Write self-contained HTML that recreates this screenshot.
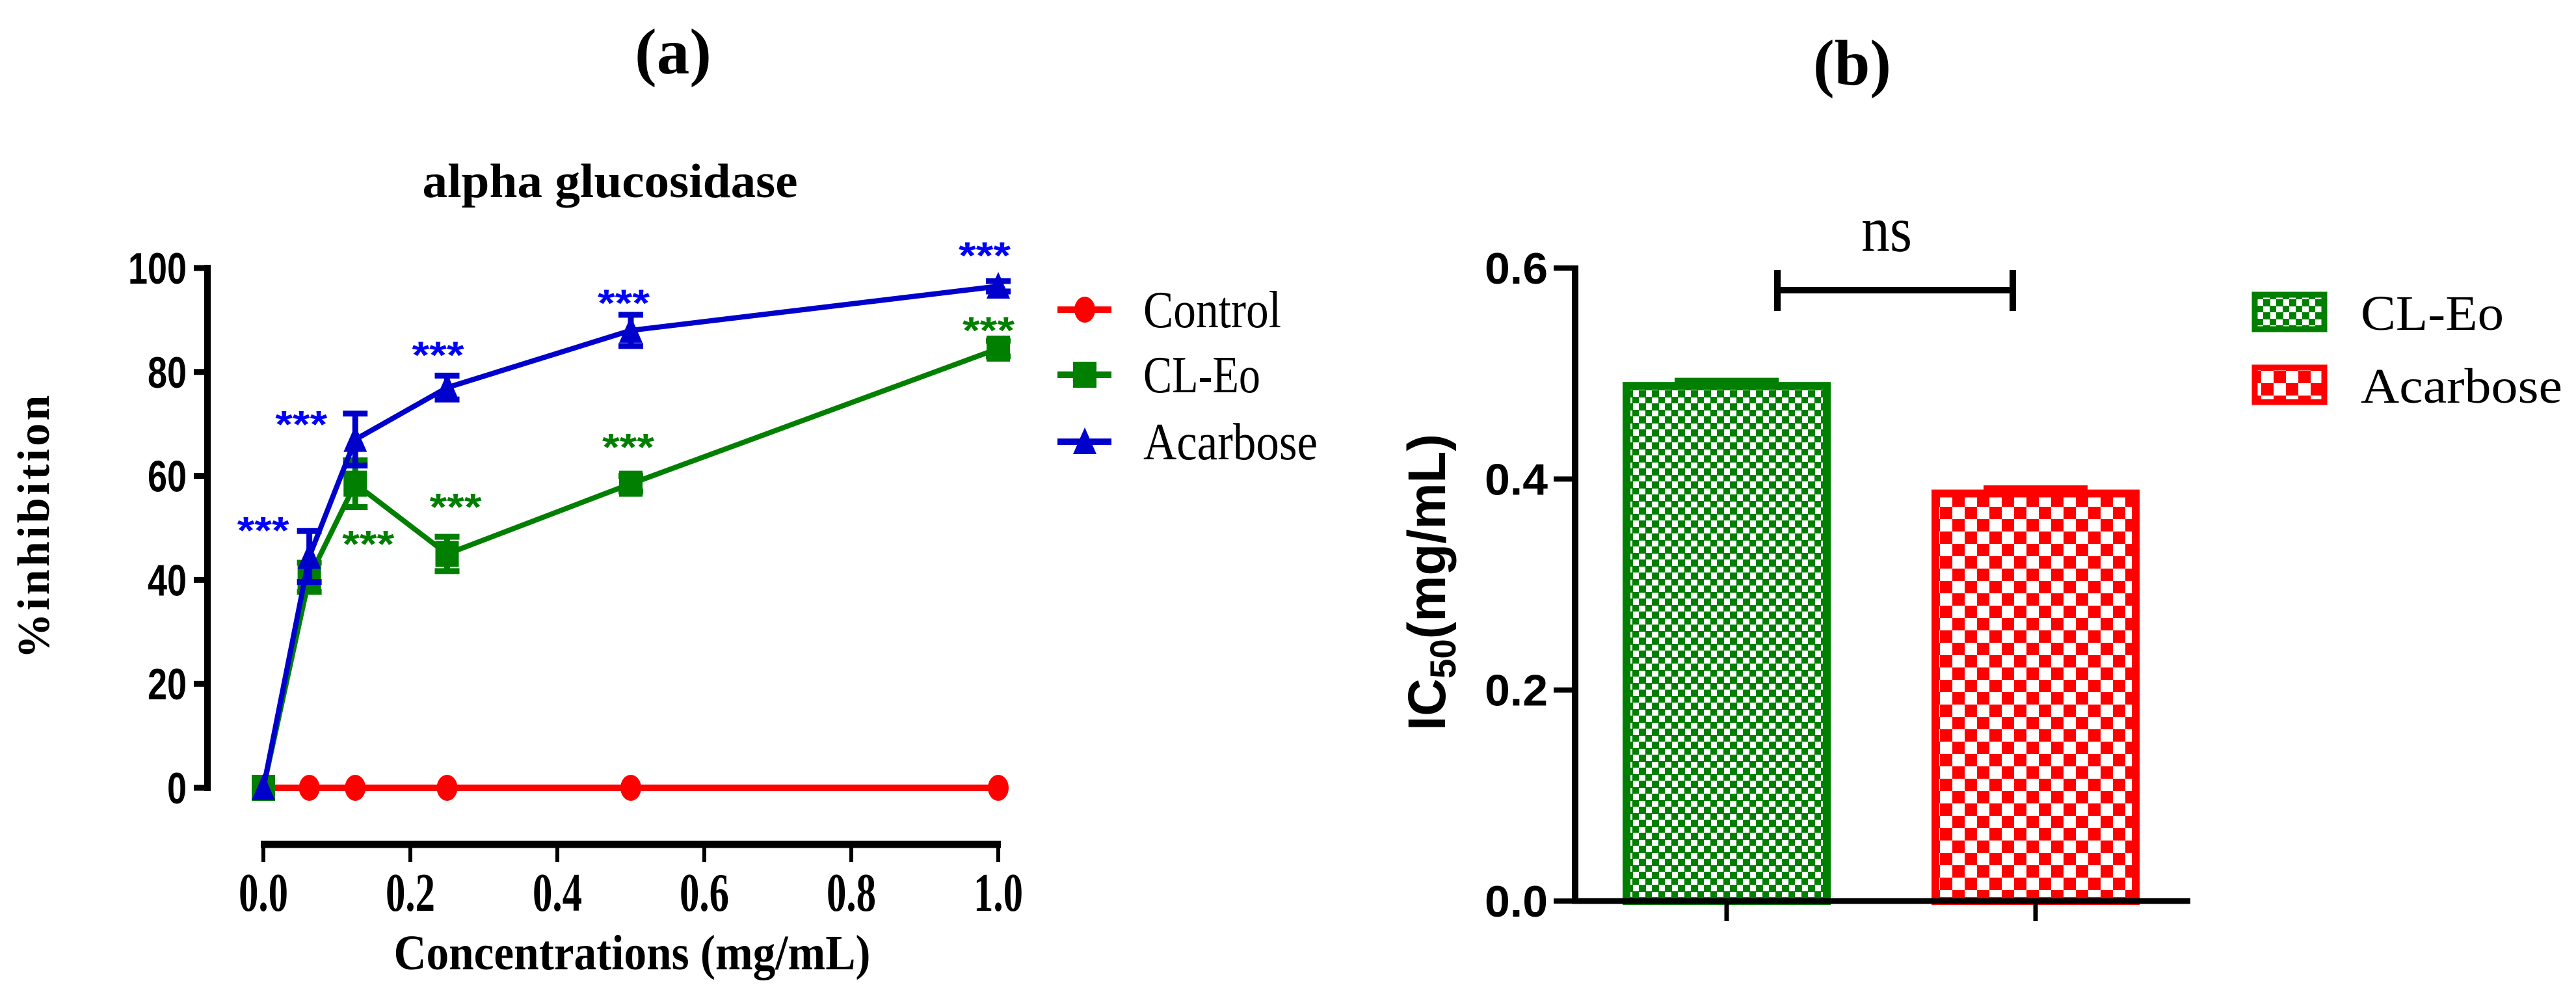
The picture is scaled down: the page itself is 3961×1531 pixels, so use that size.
<!DOCTYPE html>
<html><head><meta charset="utf-8">
<style>
html,body{margin:0;padding:0;background:#fff;}
svg{display:block;}
</style></head>
<body>
<svg id="fig" xmlns="http://www.w3.org/2000/svg" width="3961" height="1531" viewBox="0 0 3961 1531">
<defs>
<pattern id="pGreen" patternUnits="userSpaceOnUse" width="20" height="20">
<rect width="20" height="20" fill="#fff"/>
<rect x="0" y="0" width="11" height="11" fill="#007f00"/>
<rect x="10" y="10" width="11" height="11" fill="#007f00"/>
</pattern>
<pattern id="pRed" patternUnits="userSpaceOnUse" width="38" height="38">
<rect width="38" height="38" fill="#fff"/>
<rect x="0" y="0" width="19" height="19" fill="#ff0000"/>
<rect x="19" y="19" width="19" height="19" fill="#ff0000"/>
</pattern>
</defs>
<g id="left"></g>
<g id="right"></g>
</svg>
<script>
// ---- Chart (a) data ----
const concentrations = [0, 0.0625, 0.125, 0.25, 0.5, 1.0];
const controlValues = [0, 0, 0, 0, 0, 0];
const cleoValues = [0, 40.5, 58.5, 45, 58.5, 84.5];
const cleoErr = [0, 2.8, 4.5, 3.3, 1.5, 1.5];
const acarboseValues = [0, 44.5, 67, 77, 88, 96.5];
const acarboseErr = [0, 4.9, 5, 2.3, 3, 1];
const yTicksA = [0, 20, 40, 60, 80, 100];
const xTicksA = [0, 0.2, 0.4, 0.6, 0.8, 1.0];
const xTickLabelsA = ["0.0", "0.2", "0.4", "0.6", "0.8", "1.0"];
const acarboseStars = ["", "***", "***", "***", "***", "***"];
const cleoStars = ["", "", "***", "***", "***", "***"];
// ---- Chart (b) data ----
const barCategories = ["CL-Eo", "Acarbose"];
const barValues = [0.492, 0.39];
const barErr = [0.004, 0.004];
const yTicksB = [0.0, 0.2, 0.4, 0.6];
const yTickLabelsB = ["0.0", "0.2", "0.4", "0.6"];

const NS = "http://www.w3.org/2000/svg";
function mk(parent, tag, attrs, text) {
  const el = document.createElementNS(NS, tag);
  for (const k in attrs) el.setAttribute(k, attrs[k]);
  if (text !== undefined) el.textContent = text;
  parent.appendChild(el);
  return el;
}
const L = document.getElementById('left');
const R = document.getElementById('right');

const ax0 = 405, ax1 = 1535, ay0 = 1211, ay1 = 412;
const xA = v => ax0 + (v - 0) / 1.0 * (ax1 - ax0);
const yA = v => ay0 + v / 100 * (ay1 - ay0);

let e;
e = mk(L, 'text', {x: 1035, y: 113, 'text-anchor': 'middle', 'font-family': 'Liberation Serif, serif', 'font-weight': 'bold', 'font-size': 100, textLength: 118, lengthAdjust: 'spacingAndGlyphs'}, '(a)');


e = mk(L, 'text', {x: 938, y: 303, 'text-anchor': 'middle', 'font-family': 'Liberation Serif, serif', 'font-weight': 'bold', 'font-size': 74, textLength: 577, lengthAdjust: 'spacingAndGlyphs'}, 'alpha glucosidase');



e = mk(L, 'line', {x1: 319, y1: yA(100) - 5, x2: 319, y2: yA(0) + 5, stroke: '#000', 'stroke-width': 10});


yTicksA.forEach(t => {
  e = mk(L, 'line', {x1: 298, y1: yA(t), x2: 324, y2: yA(t), stroke: '#000', 'stroke-width': 9});
  
  
  const s = String(t);
  e = mk(L, 'text', {x: 287, y: yA(t) + 24, 'text-anchor': 'end', 'font-family': 'Liberation Sans, sans-serif', 'font-weight': 'bold', 'font-size': 68, textLength: s.length * 30, lengthAdjust: 'spacingAndGlyphs'}, s);
  
  
});
e = mk(L, 'text', {transform: 'translate(75,810) rotate(-90)', 'text-anchor': 'middle', 'font-family': 'Liberation Serif, serif', 'font-weight': 'bold', 'font-size': 70, textLength: 405, lengthAdjust: 'spacing'}, '%inhibition');



e = mk(L, 'line', {x1: ax0 - 4, y1: 1298, x2: ax1 + 4, y2: 1298, stroke: '#000', 'stroke-width': 11});


xTicksA.forEach((t, i) => {
  e = mk(L, 'line', {x1: xA(t), y1: 1298, x2: xA(t), y2: 1325, stroke: '#000', 'stroke-width': 6});
  
  
  e = mk(L, 'text', {x: xA(t), y: 1400, 'text-anchor': 'middle', 'font-family': 'Liberation Serif, serif', 'font-weight': 'bold', 'font-size': 84, textLength: 76, lengthAdjust: 'spacingAndGlyphs'}, xTickLabelsA[i]);
  
  
});
e = mk(L, 'text', {x: 972, y: 1490, 'text-anchor': 'middle', 'font-family': 'Liberation Serif, serif', 'font-weight': 'bold', 'font-size': 76, textLength: 733, lengthAdjust: 'spacingAndGlyphs'}, 'Concentrations (mg/mL)');



function polyPts(vals) { return concentrations.map((c, i) => xA(c) + ',' + yA(vals[i])).join(' '); }
function circleMark(g, cx, cy) { return mk(g, 'ellipse', {cx: cx, cy: cy, rx: 16, ry: 20, fill: '#ff0000'}); }
function squareMark(g, cx, cy) { return mk(g, 'rect', {x: cx - 18, y: cy - 20, width: 36, height: 40, fill: '#007f00'}); }
function triMark(g, cx, cy) { return mk(g, 'polygon', {points: (cx) + ',' + (cy - 22) + ' ' + (cx - 18) + ',' + (cy + 19) + ' ' + (cx + 18) + ',' + (cy + 19), fill: '#0000cd'}); }

function drawErr(g, vals, errs, color) {
  concentrations.forEach((c, i) => {
    if (!errs[i]) return;
    const x = xA(c), yt = yA(vals[i] + errs[i]), yb = yA(vals[i] - errs[i]);
    e = mk(g, 'path', {d: 'M' + x + ',' + yt + 'V' + yb + 'M' + (x - 19) + ',' + yt + 'H' + (x + 19) + 'M' + (x - 19) + ',' + yb + 'H' + (x + 19), stroke: color, 'stroke-width': 9, fill: 'none'});
    
    
  });
}

const gC = mk(L, 'g', {});


e = mk(gC, 'polyline', {points: polyPts(controlValues), fill: 'none', stroke: '#ff0000', 'stroke-width': 10});


concentrations.forEach((c, i) => {
  e = circleMark(gC, xA(c), yA(controlValues[i]));
  
  
});

const gG = mk(L, 'g', {});


e = mk(gG, 'polyline', {points: polyPts(cleoValues), fill: 'none', stroke: '#007f00', 'stroke-width': 8});


drawErr(gG, cleoValues, cleoErr, '#007f00');
concentrations.forEach((c, i) => {
  e = squareMark(gG, xA(c), yA(cleoValues[i]));
  
  
});

const gB = mk(L, 'g', {});


e = mk(gB, 'polyline', {points: polyPts(acarboseValues), fill: 'none', stroke: '#0000cd', 'stroke-width': 8});


drawErr(gB, acarboseValues, acarboseErr, '#0000cd');
concentrations.forEach((c, i) => {
  e = triMark(gB, xA(c), yA(acarboseValues[i]));
  
  
});

const blueOff = [[0, 0], [-71, -52], [-83, -35], [-14, -62], [-11, -54], [-21, -59]];
const greenOff = [[0, 0], [0, 0], [20, 81], [13, -84], [-4, -68], [-15, -40]];
concentrations.forEach((c, i) => {
  if (acarboseStars[i]) {
    e = mk(L, 'text', {x: xA(c) + blueOff[i][0], y: yA(acarboseValues[i]) + blueOff[i][1] + 32, 'text-anchor': 'middle', 'font-family': 'Liberation Sans, sans-serif', 'font-weight': 'bold', 'font-size': 58, fill: '#0000ff', textLength: 80, lengthAdjust: 'spacingAndGlyphs'}, acarboseStars[i]);
    
    
  }
  if (cleoStars[i]) {
    e = mk(L, 'text', {x: xA(c) + greenOff[i][0], y: yA(cleoValues[i]) + greenOff[i][1] + 32, 'text-anchor': 'middle', 'font-family': 'Liberation Sans, sans-serif', 'font-weight': 'bold', 'font-size': 58, fill: '#007f00', textLength: 80, lengthAdjust: 'spacingAndGlyphs'}, cleoStars[i]);
    
    
  }
});

const legA = [['Control', '#ff0000', circleMark, 476, 212], ['CL-Eo', '#007f00', squareMark, 576, 180], ['Acarbose', '#0000cd', triMark, 679, 268]];
legA.forEach(([name, col, fn, y, w]) => {
  const g = mk(L, 'g', {});
  
  
  mk(g, 'line', {x1: 1626, y1: y, x2: 1709, y2: y, stroke: col, 'stroke-width': 10});
  fn(g, 1668, y);
  mk(g, 'text', {x: 1758, y: y + 27, 'font-family': 'Liberation Serif, serif', 'font-size': 80, textLength: w, lengthAdjust: 'spacingAndGlyphs'}, name);
});

// ---- Chart (b) ----
const by0 = 1385, by1 = 412;
const yB = v => by0 + v / 0.6 * (by1 - by0);
const barCenters = [2655, 3130];
const barW = 320;

e = mk(R, 'text', {x: 2848, y: 130, 'text-anchor': 'middle', 'font-family': 'Liberation Serif, serif', 'font-weight': 'bold', 'font-size': 100, textLength: 120, lengthAdjust: 'spacingAndGlyphs'}, '(b)');



barCategories.forEach((cat, i) => {
  const g = mk(R, 'g', {});
  
  
  const col = i === 0 ? '#007f00' : '#ff0000';
  const top = yB(barValues[i]);
  mk(g, 'rect', {x: barCenters[i] - barW / 2 + 6, y: top + 6, width: barW - 12, height: by0 - top - 6, fill: i === 0 ? 'url(#pGreen)' : 'url(#pRed)', stroke: col, 'stroke-width': 12});
  const et = yB(barValues[i] + barErr[i]);
  mk(g, 'rect', {x: barCenters[i] - 80, y: et, width: 160, height: top - et + 6, fill: col});
});

e = mk(R, 'line', {x1: 2422, y1: by1 - 4, x2: 2422, y2: by0 + 4, stroke: '#000', 'stroke-width': 10});


yTicksB.forEach((t, i) => {
  e = mk(R, 'line', {x1: 2389, y1: yB(t), x2: 2424, y2: yB(t), stroke: '#000', 'stroke-width': 8});
  
  
  e = mk(R, 'text', {x: 2380, y: yB(t) + 24, 'text-anchor': 'end', 'font-family': 'Liberation Sans, sans-serif', 'font-weight': 'bold', 'font-size': 68, textLength: 97, lengthAdjust: 'spacingAndGlyphs'}, yTickLabelsB[i]);
  
  
});
e = mk(R, 'line', {x1: 2417, y1: by0, x2: 3368, y2: by0, stroke: '#000', 'stroke-width': 9});


barCenters.forEach(cx => {
  e = mk(R, 'line', {x1: cx, y1: by0, x2: cx, y2: 1416, stroke: '#000', 'stroke-width': 7});
  
  
});
const yt = mk(R, 'text', {transform: 'translate(2222,895) rotate(-90)', 'text-anchor': 'middle', 'font-family': 'Liberation Sans, sans-serif', 'font-weight': 'bold', 'font-size': 82, textLength: 456, lengthAdjust: 'spacingAndGlyphs'});


mk(yt, 'tspan', {}, 'IC');
mk(yt, 'tspan', {'font-size': 56, dy: 16}, '50');
mk(yt, 'tspan', {dy: -16}, '(mg/mL)');

e = mk(R, 'path', {d: 'M2733,415V478M2733,446H3095M3095,415V478', stroke: '#000', 'stroke-width': 10, fill: 'none'});


e = mk(R, 'text', {x: 2901, y: 386, 'text-anchor': 'middle', 'font-family': 'Liberation Serif, serif', 'font-size': 100, textLength: 78, lengthAdjust: 'spacingAndGlyphs'}, 'ns');



const legB = [['CL-Eo', '#007f00', 'url(#pGreen)', 449, 220], ['Acarbose', '#ff0000', 'url(#pRed)', 561, 310]];
legB.forEach(([name, col, fill, y, w]) => {
  const g = mk(R, 'g', {});
  
  
  mk(g, 'rect', {x: 3467, y: y + 4, width: 107, height: 53, fill: fill, stroke: col, 'stroke-width': 9});
  mk(g, 'text', {x: 3630, y: y + 58, 'font-family': 'Liberation Serif, serif', 'font-size': 76, textLength: w, lengthAdjust: 'spacingAndGlyphs'}, name);
});
</script>
</body></html>
